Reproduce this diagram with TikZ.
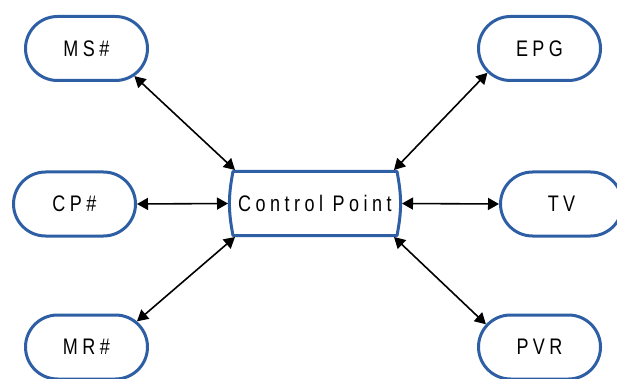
\documentclass[tikz,border=0pt]{standalone}
\usepackage{fontspec}
\setmainfont{Liberation Sans}[FakeStretch=0.8,LetterSpace=20]
\usetikzlibrary{shapes.misc,arrows.meta}
\definecolor{boxblue}{RGB}{46,95,165}
\tikzset{
  x=1pt,y=1pt,
  pill/.style={rounded rectangle, draw=boxblue, line width=3pt, fill=white,
    minimum width=122pt, minimum height=64pt, inner sep=0pt,
    font=\fontsize{22.5}{26}\selectfont},
  link/.style={line width=1.6pt, {Triangle[length=11pt,width=12pt]}-{Triangle[length=11pt,width=12pt]}},
}
\begin{document}
\begin{tikzpicture}
\useasboundingbox (0,0) rectangle (617,-379);
\node[pill] (ms)  at (86.5,-48.5) {MS\#};
\node[pill] (epg) at (539.5,-48.5) {EPG};
\node[pill] (cpn) at (74.5,-204) {CP\#};
\node[pill] (tv)  at (561.5,-204) {TV};
\node[pill] (mr)  at (86.5,-347) {MR\#};
\node[pill] (pvr) at (539.5,-347) {PVR};
\node[rectangle, outer sep=0pt, inner sep=0pt, minimum width=174pt, minimum height=67pt,
  font=\fontsize{22.5}{26}\selectfont] (cp) at (315,-203.5) {Control Point};
\draw[boxblue, line width=3pt, line join=round]
  ([shift={(5,-1.5)}]cp.north west) -- ([shift={(-5,-1.5)}]cp.north east)
  to[bend left=11] ([shift={(-5,1.5)}]cp.south east)
  -- ([shift={(5,1.5)}]cp.south west)
  to[bend left=11] cycle;
\draw[link] (ms.-30) -- ([xshift=7pt]cp.north west);
\draw[link] (epg.-155) -- ([xshift=-8pt]cp.north east);
\draw[link] (cpn.east) -- (cp.west);
\draw[link] (cp.east) -- (tv.west);
\draw[link] (mr.27) -- ([xshift=7pt]cp.south west);
\draw[link] (pvr.157) -- ([xshift=-8pt]cp.south east);
\end{tikzpicture}
\end{document}
